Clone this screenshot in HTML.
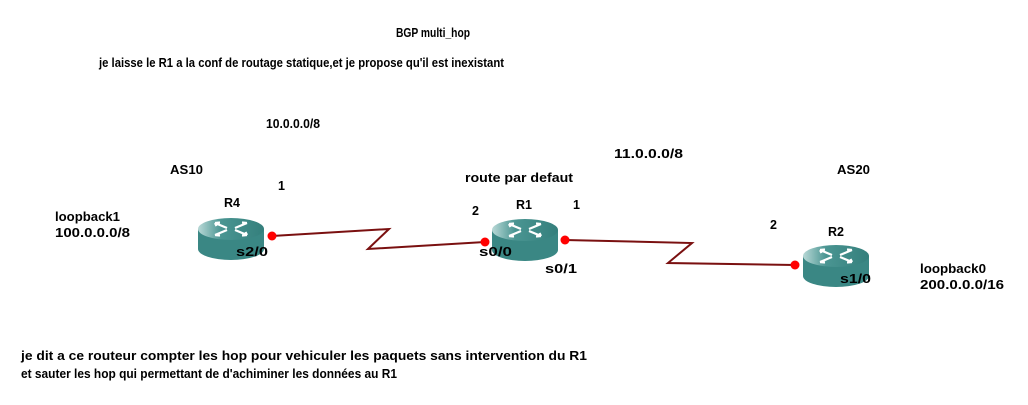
<!DOCTYPE html>
<html><head><meta charset="utf-8"><style>
html,body{margin:0;padding:0;background:#fff;}
svg{display:block;}
text{font-family:"Liberation Sans",sans-serif;font-weight:bold;font-size:12.5px;fill:#000;}
</style></head><body>
<svg width="1028" height="405" viewBox="0 0 1028 405" xmlns="http://www.w3.org/2000/svg">
<defs>
<linearGradient id="g" x1="0" x2="1" y1="0" y2="0">
<stop offset="0" stop-color="#b8d8d6"/><stop offset="0.35" stop-color="#4a9592"/><stop offset="1" stop-color="#347f7c"/>
</linearGradient>
<g id="rt">
<path d="M-33,0 L-33,20 A33,11 0 0 0 33,20 L33,0 Z" fill="#3a8784"/>
<ellipse cx="0" cy="0" rx="33" ry="11" fill="url(#g)"/>
<g stroke="#fff" stroke-width="2.2" fill="none">
<path d="M-4,-1 L-16,-6 M-4,1 L-16,6 M4,-1 L16,-6 M4,1 L16,6"/>
<path d="M-16,-6 l5,-0.5 M-16,-6 l1.5,3 M16,6 l-5,0.5 M16,6 l-1.5,-3 M-16,6 l5,0.5 M16,-6 l-5,-0.5"/>
</g>
</g>
</defs>
<polyline points="272,236 389,229 368,249 485,242" fill="none" stroke="#7a1010" stroke-width="2"/>
<polyline points="565,240 692,243 668,263 795,265" fill="none" stroke="#7a1010" stroke-width="2"/>
<use href="#rt" x="231" y="229"/>
<use href="#rt" x="525" y="230"/>
<use href="#rt" x="836" y="256"/>
<circle cx="272" cy="236" r="4.5" fill="#f00"/>
<circle cx="485" cy="242" r="4.5" fill="#f00"/>
<circle cx="565" cy="240" r="4.5" fill="#f00"/>
<circle cx="795" cy="265" r="4.5" fill="#f00"/>
<text x="396" y="37" textLength="74" lengthAdjust="spacingAndGlyphs">BGP multi_hop</text>
<text x="99" y="67" textLength="405" lengthAdjust="spacingAndGlyphs">je laisse le R1 a la conf de routage statique,et je propose qu'il est inexistant</text>
<text x="266" y="128" textLength="54" lengthAdjust="spacingAndGlyphs">10.0.0.0/8</text>
<text x="614" y="158" textLength="69" lengthAdjust="spacingAndGlyphs">11.0.0.0/8</text>
<text x="170" y="174" textLength="33" lengthAdjust="spacingAndGlyphs">AS10</text>
<text x="837" y="174" textLength="33" lengthAdjust="spacingAndGlyphs">AS20</text>
<text x="465" y="182" textLength="108" lengthAdjust="spacingAndGlyphs">route par defaut</text>
<text x="278" y="190">1</text>
<text x="224" y="207">R4</text>
<text x="516" y="209">R1</text>
<text x="472" y="215">2</text>
<text x="573" y="209">1</text>
<text x="770" y="229">2</text>
<text x="828" y="236">R2</text>
<text x="55" y="221" textLength="65" lengthAdjust="spacingAndGlyphs">loopback1</text>
<text x="55" y="237" textLength="75" lengthAdjust="spacingAndGlyphs">100.0.0.0/8</text>
<text x="236" y="256" textLength="32" lengthAdjust="spacingAndGlyphs">s2/0</text>
<text x="479" y="256" textLength="33" lengthAdjust="spacingAndGlyphs">s0/0</text>
<text x="545" y="273" textLength="32" lengthAdjust="spacingAndGlyphs">s0/1</text>
<text x="840" y="283" textLength="31" lengthAdjust="spacingAndGlyphs">s1/0</text>
<text x="920" y="273" textLength="66" lengthAdjust="spacingAndGlyphs">loopback0</text>
<text x="920" y="289" textLength="84" lengthAdjust="spacingAndGlyphs">200.0.0.0/16</text>
<text x="21" y="360" textLength="566" lengthAdjust="spacingAndGlyphs">je dit a ce routeur compter les hop pour vehiculer les paquets sans intervention du R1</text>
<text x="21" y="378" textLength="376" lengthAdjust="spacingAndGlyphs">et sauter les hop qui permettant de d'achiminer les données au R1</text>
</svg>
</body></html>
